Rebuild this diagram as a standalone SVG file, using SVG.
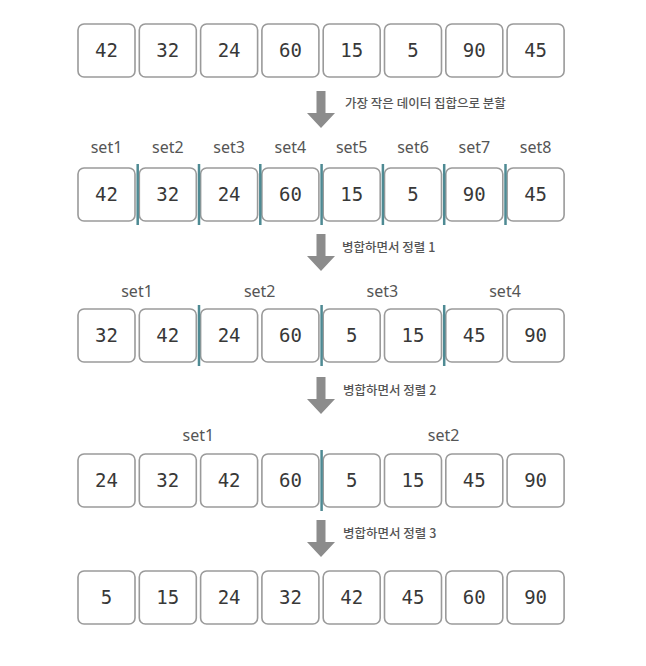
<svg xmlns="http://www.w3.org/2000/svg" width="646" height="666" viewBox="0 0 646 666">
<defs>
<style>
.box{fill:#fff;stroke:#9a9a9a;stroke-width:1.6}
.num{font-family:"DejaVu Sans Mono","Liberation Mono",monospace;font-size:19px;fill:#383838;text-anchor:middle}
.set{font-family:"Noto Sans","Liberation Sans",sans-serif;font-size:16px;fill:#555;text-anchor:middle}
.cap{font-family:"Noto Sans CJK KR","Noto Sans",sans-serif;font-size:12.5px;font-weight:500;fill:#555}
.div{stroke:#4e8a93;stroke-width:2.5}
.arr{fill:#8c8c8c}
</style>
<g id="box"><rect class="box" x="0" y="0" width="57" height="53" rx="6"/></g>
<path id="arrow" class="arr" d="M-4.5,0 H4.5 V22 H14 L0,37 L-14,22 H-4.5 Z"/>
</defs>
<rect width="646" height="666" fill="#fff"/>

<g id="row1">
<use href="#box" x="78" y="24"/><text class="num" x="106.5" y="57">42</text>
<use href="#box" x="139.3" y="24"/><text class="num" x="167.8" y="57">32</text>
<use href="#box" x="200.6" y="24"/><text class="num" x="229.1" y="57">24</text>
<use href="#box" x="261.9" y="24"/><text class="num" x="290.4" y="57">60</text>
<use href="#box" x="323.2" y="24"/><text class="num" x="351.7" y="57">15</text>
<use href="#box" x="384.5" y="24"/><text class="num" x="413" y="57">5</text>
<use href="#box" x="445.8" y="24"/><text class="num" x="474.3" y="57">90</text>
<use href="#box" x="507.1" y="24"/><text class="num" x="535.6" y="57">45</text>
</g>

<g id="row2">
<text class="set" x="106.5" y="153">set1</text>
<text class="set" x="167.8" y="153">set2</text>
<text class="set" x="229.1" y="153">set3</text>
<text class="set" x="290.4" y="153">set4</text>
<text class="set" x="351.7" y="153">set5</text>
<text class="set" x="413" y="153">set6</text>
<text class="set" x="474.3" y="153">set7</text>
<text class="set" x="535.6" y="153">set8</text>
<use href="#box" x="78" y="168"/><text class="num" x="106.5" y="201">42</text>
<use href="#box" x="139.3" y="168"/><text class="num" x="167.8" y="201">32</text>
<use href="#box" x="200.6" y="168"/><text class="num" x="229.1" y="201">24</text>
<use href="#box" x="261.9" y="168"/><text class="num" x="290.4" y="201">60</text>
<use href="#box" x="323.2" y="168"/><text class="num" x="351.7" y="201">15</text>
<use href="#box" x="384.5" y="168"/><text class="num" x="413" y="201">5</text>
<use href="#box" x="445.8" y="168"/><text class="num" x="474.3" y="201">90</text>
<use href="#box" x="507.1" y="168"/><text class="num" x="535.6" y="201">45</text>
</g>

<g id="row3">
<text class="set" x="137" y="297">set1</text>
<text class="set" x="259.7" y="297">set2</text>
<text class="set" x="382.3" y="297">set3</text>
<text class="set" x="505" y="297">set4</text>
<use href="#box" x="78" y="309"/><text class="num" x="106.5" y="342">32</text>
<use href="#box" x="139.3" y="309"/><text class="num" x="167.8" y="342">42</text>
<use href="#box" x="200.6" y="309"/><text class="num" x="229.1" y="342">24</text>
<use href="#box" x="261.9" y="309"/><text class="num" x="290.4" y="342">60</text>
<use href="#box" x="323.2" y="309"/><text class="num" x="351.7" y="342">5</text>
<use href="#box" x="384.5" y="309"/><text class="num" x="413" y="342">15</text>
<use href="#box" x="445.8" y="309"/><text class="num" x="474.3" y="342">45</text>
<use href="#box" x="507.1" y="309"/><text class="num" x="535.6" y="342">90</text>
</g>

<g id="row4">
<text class="set" x="198.3" y="441">set1</text>
<text class="set" x="443.6" y="441">set2</text>
<use href="#box" x="78" y="454"/><text class="num" x="106.5" y="487">24</text>
<use href="#box" x="139.3" y="454"/><text class="num" x="167.8" y="487">32</text>
<use href="#box" x="200.6" y="454"/><text class="num" x="229.1" y="487">42</text>
<use href="#box" x="261.9" y="454"/><text class="num" x="290.4" y="487">60</text>
<use href="#box" x="323.2" y="454"/><text class="num" x="351.7" y="487">5</text>
<use href="#box" x="384.5" y="454"/><text class="num" x="413" y="487">15</text>
<use href="#box" x="445.8" y="454"/><text class="num" x="474.3" y="487">45</text>
<use href="#box" x="507.1" y="454"/><text class="num" x="535.6" y="487">90</text>
</g>

<g id="row5">
<use href="#box" x="78" y="571"/><text class="num" x="106.5" y="604">5</text>
<use href="#box" x="139.3" y="571"/><text class="num" x="167.8" y="604">15</text>
<use href="#box" x="200.6" y="571"/><text class="num" x="229.1" y="604">24</text>
<use href="#box" x="261.9" y="571"/><text class="num" x="290.4" y="604">32</text>
<use href="#box" x="323.2" y="571"/><text class="num" x="351.7" y="604">42</text>
<use href="#box" x="384.5" y="571"/><text class="num" x="413" y="604">45</text>
<use href="#box" x="445.8" y="571"/><text class="num" x="474.3" y="604">60</text>
<use href="#box" x="507.1" y="571"/><text class="num" x="535.6" y="604">90</text>
</g>

<g id="connectors">
<g id="dividers">
<line class="div" x1="137.7" y1="164" x2="137.7" y2="225"/>
<line class="div" x1="199" y1="164" x2="199" y2="225"/>
<line class="div" x1="260.3" y1="164" x2="260.3" y2="225"/>
<line class="div" x1="321.6" y1="164" x2="321.6" y2="225"/>
<line class="div" x1="382.9" y1="164" x2="382.9" y2="225"/>
<line class="div" x1="444.2" y1="164" x2="444.2" y2="225"/>
<line class="div" x1="505.5" y1="164" x2="505.5" y2="225"/>
<line class="div" x1="199" y1="305" x2="199" y2="366"/>
<line class="div" x1="321.6" y1="305" x2="321.6" y2="366"/>
<line class="div" x1="444.2" y1="305" x2="444.2" y2="366"/>
<line class="div" x1="321.6" y1="450" x2="321.6" y2="511"/>
</g>
<use href="#arrow" x="321" y="91"/>
<use href="#arrow" x="321" y="234"/>
<use href="#arrow" x="321" y="377"/>
<use href="#arrow" x="321" y="520"/>
</g>

<g id="captions">
<text class="cap" x="345" y="108">가장 작은 데이터 집합으로 분할</text>
<text class="cap" x="342" y="252">병합하면서 정렬 1</text>
<text class="cap" x="343" y="395">병합하면서 정렬 2</text>
<text class="cap" x="343" y="538">병합하면서 정렬 3</text>
</g>
</svg>
